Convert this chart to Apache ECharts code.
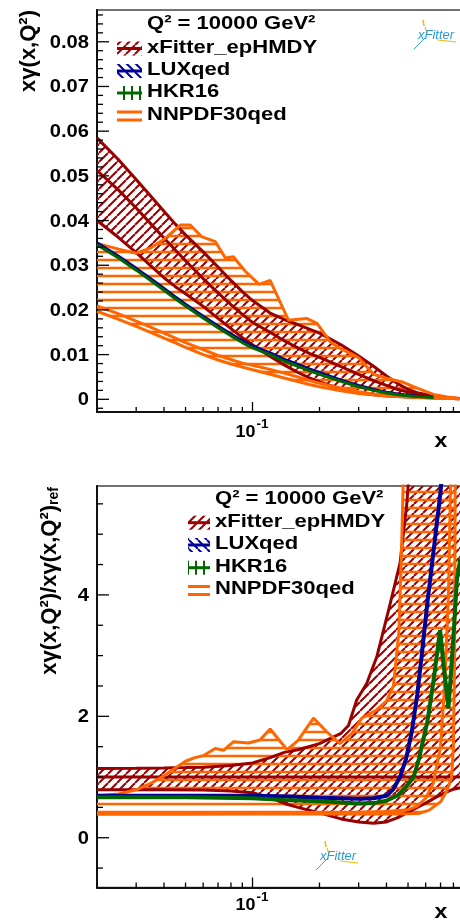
<!DOCTYPE html>
<html><head><meta charset="utf-8">
<script src="https://cdn.jsdelivr.net/npm/echarts@6/dist/echarts.min.js"></script>
<style>html,body{margin:0;padding:0;background:#fff;overflow:hidden;width:460px;height:923px}#c{width:480px;height:923px}</style>
</head><body><div id="c"></div>
<script>
// ---------------- DATA ----------------
const xGrid = [0.02,0.025,0.03,0.035,0.04,0.045,0.05,0.06,0.07,0.08,0.09,0.1,0.12,0.14,0.16,0.18,0.2,0.25,0.3,0.35,0.4,0.45,0.5,0.55,0.6,0.65,0.7,0.75,0.8,0.85];
// top panel: x*gamma(x,Q2)
const xfUpTop  = [0.0585,0.0536,0.0492,0.0454,0.0421,0.0392,0.0368,0.0330,0.0296,0.0266,0.0241,0.0221,0.0193,0.0178,0.0167,0.0157,0.0148,0.0122,0.0097,0.0074,0.0052,0.0035,0.0022,0.0015,0.0011,0.0008,0.0006,0.0004,0.0003,0.0002];
const xfCenTop = [0.0512,0.0468,0.0428,0.0392,0.0361,0.0334,0.0310,0.0270,0.0238,0.0212,0.0190,0.0172,0.0150,0.0130,0.0115,0.0103,0.0094,0.0073,0.0056,0.0042,0.0031,0.0022,0.0016,0.0011,0.0008,0.0006,0.0004,0.0003,0.0002,0.0001];
const xfLowTop = [0.0400,0.0362,0.0328,0.0298,0.0272,0.0252,0.0236,0.0208,0.0181,0.0158,0.0138,0.0122,0.0096,0.0076,0.0060,0.0048,0.0039,0.0023,0.0014,0.0010,0.0008,0.0006,0.0005,0.0004,0.0004,0.0003,0.0003,0.0002,0.0002,0.0001];
const xLineTop = [0.02,0.025,0.03,0.035,0.04,0.045,0.05,0.06,0.07,0.08,0.09,0.1,0.12,0.14,0.16,0.18,0.2,0.25,0.3,0.35,0.4,0.45,0.5,0.55,0.6,0.65];
const luxTop = [0.0350,0.0320,0.0293,0.0269,0.0248,0.0229,0.0213,0.0186,0.0164,0.0146,0.0131,0.0119,0.0104,0.0089,0.0078,0.0068,0.0060,0.0043,0.0031,0.0022,0.0016,0.0012,0.0009,0.0007,0.0006,0.0005];
const hkrTop = [0.0346,0.0316,0.0289,0.0265,0.0244,0.0225,0.0209,0.0182,0.0160,0.0142,0.0127,0.0115,0.0100,0.0085,0.0074,0.0064,0.0056,0.0040,0.0028,0.0020,0.0014,0.0010,0.0008,0.0006,0.0005,0.0004];
const nnUpTop = [[0.02,0.0349],[0.025,0.0336],[0.03,0.0327],[0.035,0.0339],[0.04,0.0358],[0.0475,0.0390],[0.0525,0.0390],[0.059,0.0364],[0.068,0.0353],[0.0755,0.0316],[0.082,0.0319],[0.093,0.0286],[0.107,0.0257],[0.12,0.0266],[0.145,0.0177],[0.175,0.0181],[0.195,0.0170],[0.225,0.0127],[0.25,0.0113],[0.28,0.0101],[0.3,0.0093],[0.35,0.0056],[0.4,0.0047],[0.476,0.0038],[0.55,0.0025],[0.65,0.0011],[0.75,0.0005],[0.85,0.0002]];
const nnCenTop = [0.0209,0.0191,0.0175,0.0161,0.0148,0.0137,0.0127,0.0111,0.0098,0.0089,0.0081,0.0076,0.0067,0.0058,0.0050,0.0042,0.0036,0.0025,0.0017,0.0012,0.0009,0.0007,0.0006,0.0005,0.0004,0.0004,0.0003,0.0003,0.0002,0.0002];
const nnLowTop = [0.0197,0.0179,0.0163,0.0149,0.0137,0.0126,0.0116,0.0100,0.0088,0.0079,0.0072,0.0066,0.0056,0.0047,0.0040,0.0033,0.0028,0.0019,0.0013,0.0010,0.0007,0.0006,0.0005,0.0004,0.0003,0.0003,0.0002,0.0002,0.0002,0.0001];
// bottom panel: ratio to xFitter_epHMDY central
const xfUpR  = [[0.02,1.14],[0.03,1.145],[0.04,1.15],[0.05,1.155],[0.06,1.16],[0.08,1.19],[0.1,1.23],[0.12,1.32],[0.14,1.41],[0.16,1.45],[0.2,1.55],[0.25,1.72],[0.27,1.85],[0.294,2.27],[0.326,2.54],[0.362,2.98],[0.416,3.86],[0.46,4.52],[0.494,5.51],[0.51,6.2],[0.6,7],[0.9,7]];
const xfCenR = [[0.02,1],[0.05,1],[0.1,1],[0.2,1],[0.5,1],[0.9,1]];
const xfLowR = [[0.02,0.79],[0.04,0.79],[0.06,0.785],[0.08,0.77],[0.1,0.74],[0.12,0.66],[0.14,0.56],[0.16,0.5],[0.2,0.41],[0.25,0.31],[0.3,0.26],[0.35,0.24],[0.4,0.26],[0.45,0.33],[0.5,0.42],[0.55,0.5],[0.6,0.57],[0.7,0.71],[0.8,0.8],[0.9,0.84]];
const luxR = [[0.02,0.69],[0.05,0.69],[0.1,0.69],[0.15,0.68],[0.2,0.66],[0.25,0.65],[0.3,0.64],[0.35,0.65],[0.4,0.69],[0.43,0.8],[0.46,1.0],[0.49,1.3],[0.52,1.75],[0.55,2.35],[0.58,3.1],[0.61,3.85],[0.65,4.7],[0.7,5.7],[0.72,6.2]];
const hkrR = [[0.02,0.665],[0.05,0.665],[0.1,0.65],[0.14,0.62],[0.2,0.6],[0.25,0.58],[0.3,0.565],[0.35,0.57],[0.4,0.61],[0.45,0.7],[0.476,0.79],[0.5,0.88],[0.53,1.0],[0.56,1.3],[0.585,1.61],[0.61,1.9],[0.64,2.4],[0.66,2.75],[0.697,3.42],[0.72,2.9],[0.76,2.13],[0.79,3.0],[0.83,4.27],[0.86,4.6]];
const nnUpR = [[0.02,0.69],[0.025,0.72],[0.03,0.79],[0.035,0.9],[0.04,1.02],[0.045,1.15],[0.05,1.26],[0.055,1.32],[0.06,1.35],[0.068,1.47],[0.074,1.44],[0.082,1.58],[0.096,1.56],[0.108,1.61],[0.12,1.79],[0.143,1.45],[0.16,1.6],[0.188,1.97],[0.215,1.75],[0.247,1.55],[0.28,1.72],[0.31,1.97],[0.36,2.1],[0.4,2.25],[0.43,2.5],[0.455,3.4],[0.468,4.8],[0.478,6.2]];
const nnCenR = [[0.02,0.41],[0.05,0.41],[0.1,0.415],[0.2,0.415],[0.3,0.42],[0.4,0.43],[0.5,0.46],[0.55,0.52],[0.6,0.65],[0.65,0.9],[0.7,1.5],[0.73,2.5],[0.76,4.0],[0.78,6.2]];
const nnLowR = [[0.02,0.385],[0.05,0.385],[0.1,0.39],[0.2,0.39],[0.3,0.39],[0.4,0.39],[0.5,0.395],[0.56,0.40],[0.62,0.45],[0.7,0.59],[0.75,0.78],[0.785,1.0],[0.8,1.5],[0.81,3.0],[0.815,6.2]];
// axes / ticks / texts
const xMajorTicks = [0.1];
const xMinorTicks = [0.03,0.04,0.05,0.06,0.07,0.08,0.09,0.2,0.3,0.4,0.5,0.6,0.7,0.8,0.9];
const topYMajor = [0,0.01,0.02,0.03,0.04,0.05,0.06,0.07,0.08];
const topYLabels = ['0','0.01','0.02','0.03','0.04','0.05','0.06','0.07','0.08'];
const botYMajor = [0,2,4];
const botYLabels = ['0','2','4'];
const botYMinor = [-0.5,0.5,1,1.5,2.5,3,3.5,4.5,5,5.5];
const legendNames = ['xFitter_epHMDY','LUXqed','HKR16','NNPDF30qed'];
const legendHeader = 'Q\u00B2 = 10000 GeV\u00B2';

// ---------------- STYLE ----------------
const FF = '"Liberation Sans", Arial, sans-serif';
const C_RED = '#990000', C_BLUE = '#000099', C_GREEN = '#006600', C_OR = '#ff6600';
const topYMinor = [];
for (let k = -1; k <= 43; k++) { if (k % 5 !== 0) topYMinor.push(+(k * 0.002).toFixed(4)); }

function hatch(kind, color, lw, s) {
  const c = document.createElement('canvas'); c.width = s; c.height = s;
  const g = c.getContext('2d'); g.strokeStyle = color; g.lineWidth = lw;
  g.beginPath();
  if (kind === '/') { for (let k = -1; k <= 1; k++) { g.moveTo(k * s, s); g.lineTo(k * s + s, 0); } }
  else if (kind === '\\') { for (let k = -1; k <= 1; k++) { g.moveTo(k * s, 0); g.lineTo(k * s + s, s); } }
  else if (kind === '-') { g.moveTo(0, s / 2); g.lineTo(s, s / 2); }
  else { g.moveTo(s / 2, 0); g.lineTo(s / 2, s); }
  g.stroke();
  return { image: c, repeat: 'repeat' };
}
const patRed = hatch('/', C_RED, 2, 9);
const patOr = hatch('-', C_OR, 2.5, 8);
const patBlue = hatch('\\', C_BLUE, 2, 9);
const patGreen = hatch('|', C_GREEN, 2, 8);

const zip = (xs, ys) => xs.map((x, i) => [x, ys[i]]);

function band(gi, upper, lower, pat, z) {
  return {
    type: 'custom', xAxisIndex: gi, yAxisIndex: gi, z: z, silent: true, animation: false,
    data: [upper[0]],
    renderItem: function (params, api) {
      const cs = params.coordSys;
      const pts = upper.map(p => api.coord(p)).concat(lower.slice().reverse().map(p => api.coord(p)));
      return {
        type: 'polygon', shape: { points: pts }, style: { fill: pat, stroke: null },
        clipPath: { type: 'rect', shape: { x: cs.x, y: cs.y, width: cs.width, height: cs.height } }
      };
    }
  };
}
function line(gi, data, color, w, z) {
  return { type: 'line', xAxisIndex: gi, yAxisIndex: gi, data: data, symbol: 'none', showSymbol: false,
    lineStyle: { color: color, width: w }, z: z, silent: true, animation: false, clip: true };
}
function txtEl(x, y, text, size, align, vAlign, sx) {
  return { type: 'text', x: x, y: y, scaleX: sx || 1,
    style: { text: text, x: 0, y: 0, fill: '#000', font: 'bold ' + size + 'px ' + FF,
      align: align, textAlign: align, verticalAlign: vAlign, textVerticalAlign: vAlign } };
}
function lnEl(x1, y1, x2, y2, color, w) {
  return { type: 'line', shape: { x1: x1, y1: y1, x2: x2, y2: y2 }, style: { stroke: color || '#000', lineWidth: w || 1.3 } };
}
function ticks(gi, yMaj, yLab, yMin, xLabOff) {
  return {
    type: 'custom', xAxisIndex: gi, yAxisIndex: gi, z: 20, silent: true, animation: false,
    data: [[0.1, yMaj[1]]],
    renderItem: function (params, api) {
      const cs = params.coordSys, ch = [];
      const L = cs.x, B = cs.y + cs.height;
      yMaj.forEach((v, i) => {
        const y = api.coord([0.1, v])[1];
        ch.push(lnEl(L, y, L + 12, y));
        ch.push(txtEl(L - 8, y + 1, yLab[i], 18, 'right', 'middle', 1.12));
      });
      yMin.forEach(v => { const y = api.coord([0.1, v])[1]; ch.push(lnEl(L, y, L + 6, y)); });
      xMajorTicks.forEach(v => {
        const x = api.coord([v, yMaj[1]])[0];
        ch.push(lnEl(x, B, x, B - 10));
        ch.push(txtEl(x + 3, B + xLabOff, '10', 16, 'right', 'middle', 1.12));
        ch.push(txtEl(x + 4, B + xLabOff - 8, '-1', 12, 'left', 'middle', 1.12));
      });
      xMinorTicks.forEach(v => { const x = api.coord([v, yMaj[1]])[0]; ch.push(lnEl(x, B, x, B - 5)); });
      return { type: 'group', children: ch };
    }
  };
}

// legend graphics
function legendEls(tx, headY, ys, mx, mw) {
  const els = [];
  els.push(txtEl(tx, headY, legendHeader, 19, 'left', 'middle', 1.16));
  const pats = [patRed, patBlue, patGreen, null];
  const cols = [C_RED, C_BLUE, C_GREEN, C_OR];
  ys.forEach((cy, i) => {
    const my = cy + 1;
    if (pats[i]) {
      els.push({ type: 'rect', shape: { x: mx, y: my - 7, width: mw, height: 14 }, style: { fill: pats[i] } });
      els.push(lnEl(mx, my, mx + mw, my, cols[i], 3));
    } else {
      els.push(lnEl(mx, my - 3.5, mx + mw, my - 3.5, C_OR, 3));
      els.push(lnEl(mx, my + 4.5, mx + mw, my + 4.5, C_OR, 3));
    }
    els.push(txtEl(tx, cy, legendNames[i], 19, 'left', 'middle', 1.16));
  });
  return els;
}
function logoEls(cx, cy) {
  return [
    lnEl(cx - 13, cy - 15, cx - 12, cy - 9, '#f5b800', 1.5),
    lnEl(cx - 11, cy - 8, cx - 9, cy - 2, '#f5b800', 1.2),
    lnEl(cx - 10, cy + 2, cx - 22, cy + 14, '#3da0e0', 1),
    lnEl(cx + 2, cy + 5, cx + 20, cy + 7, '#f5b800', 1),
    { type: 'text', x: cx, y: cy, style: { text: 'xFitter', x: 0, y: 0, fill: '#2a9ad8',
      font: 'italic 13px ' + FF, align: 'center', textAlign: 'center', verticalAlign: 'middle', textVerticalAlign: 'middle' } }
  ];
}

const graphics = [].concat(
  [{ type: 'text', x: 29, y: 10, rotation: Math.PI / 2,
     style: { text: 'x\u03B3(x,Q\u00B2)', x: 0, y: 0, fill: '#000', font: 'bold 22px ' + FF,
       align: 'right', textAlign: 'right', verticalAlign: 'middle', textVerticalAlign: 'middle' } },
   { type: 'text', x: 50, y: 487, rotation: Math.PI / 2,
     style: { text: '{m|x\u03B3(x,Q\u00B2)/x\u03B3(x,Q\u00B2)}{s|ref}', x: 0, y: 0, fill: '#000',
       align: 'right', textAlign: 'right', verticalAlign: 'middle', textVerticalAlign: 'middle',
       rich: { m: { font: 'bold 22px ' + FF, fill: '#000' },
               s: { font: 'bold 14px ' + FF, fill: '#000', verticalAlign: 'bottom', padding: [8, 0, 0, 0] } } } },
   txtEl(441, 441, 'x', 21, 'center', 'middle', 1.1),
   txtEl(441, 912.5, 'x', 21, 'center', 'middle', 1.1)],
  legendEls(147, 23.7, [47.5, 70, 92, 114.5], 117, 25),
  legendEls(215, 499, [521.7, 544, 566.7, 589], 188, 22),
  logoEls(436, 35),
  logoEls(338, 856)
);

const axisCommon = {
  axisTick: { show: false }, axisLabel: { show: false }, splitLine: { show: false }
};
const option = {
  animation: false,
  backgroundColor: '#fff',
  grid: [
    { left: 97, top: 10, width: 378, height: 402, show: true, borderColor: '#444', borderWidth: 1.5, backgroundColor: 'transparent' },
    { left: 97, top: 486, width: 378, height: 401.5, show: true, borderColor: '#444', borderWidth: 1.5, backgroundColor: 'transparent' }
  ],
  xAxis: [
    Object.assign({ type: 'log', logBase: 10, min: 0.02, max: 1, gridIndex: 0, axisLine: { show: true, onZero: false, lineStyle: { color: '#111', width: 2 } } }, axisCommon),
    Object.assign({ type: 'log', logBase: 10, min: 0.02, max: 1, gridIndex: 1, axisLine: { show: true, onZero: false, lineStyle: { color: '#111', width: 2 } } }, axisCommon)
  ],
  yAxis: [
    Object.assign({ type: 'value', min: -0.00284, max: 0.08711, gridIndex: 0, axisLine: { show: true, onZero: false, lineStyle: { color: '#111', width: 2 } } }, axisCommon),
    Object.assign({ type: 'value', min: -0.82, max: 5.794, gridIndex: 1, axisLine: { show: true, onZero: false, lineStyle: { color: '#111', width: 2 } } }, axisCommon)
  ],
  series: [
    // top panel
    band(0, zip(xGrid, xfUpTop), zip(xGrid, xfLowTop), patRed, 2),
    band(0, nnUpTop, zip(xGrid, nnLowTop), patOr, 3),
    line(0, zip(xGrid, xfUpTop), C_RED, 3, 4),
    line(0, zip(xGrid, xfCenTop), C_RED, 3, 4),
    line(0, zip(xGrid, xfLowTop), C_RED, 3, 4),
    line(0, nnUpTop, C_OR, 3, 5),
    line(0, zip(xGrid, nnCenTop), C_OR, 3, 5),
    line(0, zip(xGrid, nnLowTop), C_OR, 3, 5),
    line(0, zip(xLineTop, luxTop), C_BLUE, 3, 6),
    line(0, zip(xLineTop, hkrTop), C_GREEN, 3, 7),
    ticks(0, topYMajor, topYLabels, topYMinor, 20.5),
    // bottom panel
    band(1, xfUpR, xfLowR, patRed, 2),
    band(1, nnUpR, nnLowR, patOr, 3),
    line(1, xfUpR, C_RED, 3, 4),
    line(1, xfCenR, C_RED, 3, 4),
    line(1, xfLowR, C_RED, 3, 4),
    line(1, nnUpR, C_OR, 3, 5),
    line(1, nnCenR, C_OR, 3, 5),
    line(1, nnLowR, C_OR, 3, 5),
    line(1, luxR, C_BLUE, 4, 6),
    line(1, hkrR, C_GREEN, 4, 7),
    ticks(1, botYMajor, botYLabels, botYMinor, 18)
  ],
  graphic: graphics
};
const chart = echarts.init(document.getElementById('c'), null, { renderer: 'canvas' });
chart.setOption(option);
</script></body></html>
